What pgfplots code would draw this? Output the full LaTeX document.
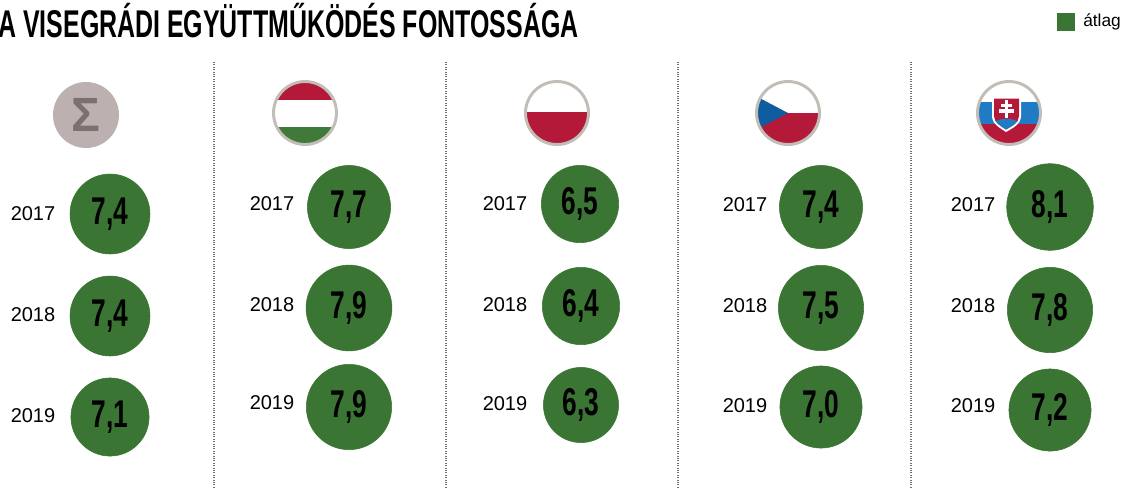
\documentclass[border=0pt]{standalone}
\usepackage{fontspec}
\setmainfont{Liberation Sans}
\newfontfamily\condfont[FakeStretch=0.645]{Liberation Sans}
\newfontfamily\numfont[FakeStretch=0.68]{Liberation Sans}
\usepackage{pgfplots}
\pgfplotsset{compat=1.18}
\definecolor{vgreen}{HTML}{3A7533}
\definecolor{ring}{HTML}{C2BDB6}
\definecolor{sigbg}{HTML}{BCB1B0}
\definecolor{sigfg}{HTML}{7D7170}
\definecolor{fred}{HTML}{B5193A}
\definecolor{fgreen}{HTML}{3F7A3A}
\definecolor{cblue}{HTML}{0F5C9E}
\definecolor{sblue}{HTML}{1F7CC4}
\definecolor{sep}{HTML}{6E6E6E}

% bubble: x, y (px from top left), radius (pt), value
\newcommand{\bub}[4]{\addplot[only marks,mark=*,mark size=#3pt,color=vgreen,
    nodes near coords={#4},
    nodes near coords style={anchor=center,text=black,font=\numfont\bfseries\fontsize{29}{29}\selectfont}]
    coordinates {(#1,#2)};}
\newcommand{\yr}[3]{\node[font=\fontsize{15}{15}\selectfont] at (axis cs:#1,#2) {#3};}
\newcommand{\shieldpath}{(994,98.5) -- (1019,98.5) -- (1019,116) .. controls (1019,123) and (1012,126) .. (1006,129.5) .. controls (1001,126) and (994,123) .. (994,116) -- cycle}

\begin{document}
\begin{tikzpicture}
\useasboundingbox (0,0) rectangle (846.75pt,365.25pt);
\clip (0,0) rectangle (846.75pt,365.25pt);
\begin{axis}[at={(0,0)},anchor=south west,scale only axis,width=846.75pt,height=365.25pt,
  xmin=0,xmax=1129,ymin=0,ymax=487,y dir=reverse,axis lines=none,clip=false]
  % separators
  \addplot[sep,densely dotted,line width=0.8pt] coordinates {(214,62) (214,487)};
  \addplot[sep,densely dotted,line width=0.8pt] coordinates {(446,62) (446,487)};
  \addplot[sep,densely dotted,line width=0.8pt] coordinates {(678,62) (678,487)};
  \addplot[sep,densely dotted,line width=0.8pt] coordinates {(911,62) (911,487)};
  % bubbles
  \bub{110}{214}{30}{7,4}\bub{110}{316}{30}{7,4}\bub{110}{417}{29.3}{7,1}
  \bub{349}{207}{31.2}{7,7}\bub{349}{308}{32.2}{7,9}\bub{349}{407}{32}{7,9}
  \bub{580}{204}{29}{6,5}\bub{581}{306}{29}{6,4}\bub{581}{405}{28.2}{6,3}
  \bub{821}{207}{31.2}{7,4}\bub{821}{308}{32}{7,5}\bub{821}{407}{30.8}{7,0}
  \bub{1050}{207}{32.5}{8,1}\bub{1050}{310}{32}{7,8}\bub{1050}{410}{30.8}{7,2}
  % years
  \yr{33}{214}{2017}\yr{33}{315}{2018}\yr{33}{416}{2019}
  \yr{272}{204}{2017}\yr{272}{305}{2018}\yr{272}{403}{2019}
  \yr{505}{204}{2017}\yr{505}{305}{2018}\yr{505}{404}{2019}
  \yr{745}{205}{2017}\yr{745}{306}{2018}\yr{745}{406}{2019}
  \yr{973}{205}{2017}\yr{973}{306}{2018}\yr{973}{406}{2019}
\end{axis}
\begin{scope}[x=0.75pt,y=-0.75pt,yshift=365.25pt]
  % title and legend
  \node[anchor=base west,inner sep=0pt,font=\condfont\bfseries\fontsize{29}{29}\selectfont] at (-2,37) {A VISEGRÁDI EGYÜTTMŰKÖDÉS FONTOSSÁGA};
  \fill[vgreen] (1057,13) rectangle (1075,31);
  \node[anchor=west,inner sep=0pt,font=\fontsize{13}{13}\selectfont] at (1083,22) {átlag};
  % sigma
  \fill[sigbg] (86,115) circle[radius=33];
  \node[text=sigfg,font=\bfseries\fontsize{36}{36}\selectfont] at (86,115) {Σ};
  % Hungary
  \begin{scope}
    \clip (305,113) circle[radius=31];
    \fill[fred] (260,70) rectangle (350,100);
    \fill[white] (260,100) rectangle (350,127);
    \fill[fgreen] (260,127) rectangle (350,150);
  \end{scope}
  \draw[ring,line width=2.2pt] (305,113) circle[radius=31.5];
  % Poland
  \begin{scope}
    \clip (557,113) circle[radius=31];
    \fill[white] (520,70) rectangle (600,112);
    \fill[fred] (520,112) rectangle (600,150);
  \end{scope}
  \draw[ring,line width=2.2pt] (557,113) circle[radius=31.5];
  % Czechia
  \begin{scope}
    \clip (788,113) circle[radius=31];
    \fill[white] (750,70) rectangle (830,113);
    \fill[fred] (750,113) rectangle (830,150);
    \fill[cblue] (750,93) -- (788,113) -- (750,133) -- cycle;
  \end{scope}
  \draw[ring,line width=2.2pt] (788,113) circle[radius=31.5];
  % Slovakia
  \begin{scope}
    \clip (1009,113) circle[radius=31];
    \fill[white] (970,70) rectangle (1050,102);
    \fill[sblue] (970,102) rectangle (1050,124);
    \fill[fred] (970,124) rectangle (1050,150);
  \end{scope}
  \draw[ring,line width=2.2pt] (1009,113) circle[radius=31.5];
  \fill[white] (992,96.5) -- (1021,96.5) -- (1021,116) .. controls (1021,124) and (1013,128) .. (1006,132) .. controls (1000,128) and (992,124) .. (992,116) -- cycle;
  \fill[fred] \shieldpath;
  \begin{scope}
    \clip \shieldpath;
    \fill[sblue] (992,132) -- (992,124) .. controls (998,117) and (1015,117) .. (1021,124) -- (1021,132) -- cycle;
  \end{scope}
  \fill[white] (1004.5,100) rectangle (1008,118);
  \fill[white] (1001,103.5) rectangle (1011.5,106.5);
  \fill[white] (998.5,109) rectangle (1014,112.5);
\end{scope}
\end{tikzpicture}
\end{document}
